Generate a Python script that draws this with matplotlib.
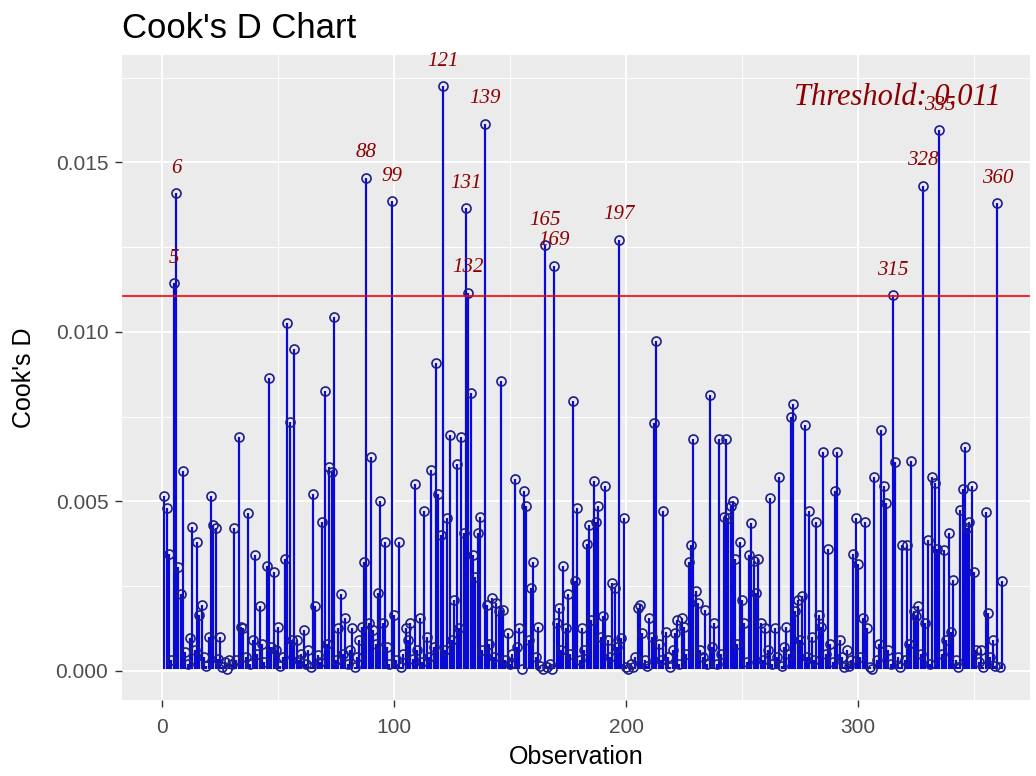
import matplotlib.pyplot as plt
import numpy as np
from matplotlib.ticker import MultipleLocator

# Cook's distance for each observation (in units of 1e-3)
cooks_d_milli = [
    5.15, 4.80, 3.45, 0.30, 11.44, 14.09, 3.05, 2.25, 5.90, 0.55,
    0.20, 0.95, 4.25, 0.60, 3.80, 1.65, 1.95, 0.40, 0.15, 1.00,
    5.15, 4.30, 4.20, 0.35, 1.00, 0.10, 0.25, 0.05, 0.30, 0.20,
    4.20, 0.30, 6.90, 1.30, 1.25, 0.40, 4.65, 0.20, 0.90, 3.42,
    0.50, 1.90, 0.80, 0.25, 3.10, 8.65, 0.70, 2.90, 0.60, 1.30,
    0.15, 0.40, 3.30, 10.25, 7.35, 0.90, 9.50, 0.90, 0.30, 0.50,
    1.20, 0.20, 0.60, 0.10, 5.20, 1.90, 0.45, 0.25, 4.40, 8.25,
    0.80, 6.00, 5.85, 10.45, 0.30, 1.25, 2.25, 0.50, 1.55, 0.20,
    0.60, 1.25, 0.10, 0.40, 0.90, 1.30, 3.20, 14.55, 1.40, 6.30,
    1.20, 0.80, 2.30, 5.00, 1.40, 3.80, 0.70, 0.20, 13.85, 1.65,
    0.30, 3.80, 0.10, 0.50, 1.25, 0.90, 1.40, 0.35, 5.50, 0.60,
    1.55, 0.25, 4.70, 1.00, 0.40, 5.93, 0.70, 9.08, 5.20, 4.00,
    17.25, 0.60, 4.50, 6.95, 0.90, 2.10, 6.10, 1.25, 6.90, 4.05,
    13.65, 11.15, 8.20, 3.40, 2.75, 4.05, 4.55, 0.60, 16.15, 1.95,
    0.80, 2.15, 0.40, 2.00, 1.75, 8.55, 1.80, 0.30, 1.10, 0.20,
    0.50, 5.65, 0.70, 1.25, 0.05, 5.30, 4.85, 0.90, 2.45, 3.20,
    0.40, 1.30, 0.15, 0.05, 12.55, 0.10, 0.20, 0.05, 11.95, 1.40,
    1.85, 0.60, 3.10, 1.25, 2.25, 0.50, 7.95, 2.65, 4.80, 0.30,
    1.25, 0.60, 3.75, 4.30, 1.50, 5.60, 4.40, 4.85, 1.00, 1.60,
    5.45, 0.90, 0.40, 2.60, 2.45, 0.70, 12.72, 0.95, 4.50, 0.10,
    0.05, 0.20, 0.10, 0.40, 1.85, 1.95, 1.10, 0.30, 0.15, 1.55,
    1.00, 7.30, 9.72, 0.80, 0.30, 4.70, 1.15, 0.40, 0.10, 0.60,
    1.10, 1.50, 0.20, 1.55, 1.30, 0.50, 3.20, 3.70, 6.85, 2.35,
    2.00, 0.60, 0.40, 1.80, 0.20, 8.15, 0.70, 1.40, 0.20, 6.85,
    0.50, 4.55, 6.85, 4.50, 4.85, 5.00, 3.30, 0.80, 3.80, 2.10,
    1.40, 0.25, 3.40, 4.35, 3.25, 2.30, 3.30, 1.40, 0.30, 1.25,
    0.60, 5.10, 0.20, 1.25, 0.40, 5.72, 0.15, 0.70, 1.30, 0.50,
    7.48, 7.87, 1.75, 2.10, 0.90, 2.20, 7.25, 0.40, 4.70, 1.00,
    0.30, 4.40, 1.65, 1.30, 6.45, 0.50, 3.60, 0.80, 0.25, 5.30,
    6.45, 0.90, 0.40, 0.10, 0.60, 0.15, 0.30, 3.45, 4.50, 3.15,
    0.40, 1.55, 4.38, 1.25, 0.10, 0.05, 5.72, 0.30, 0.80, 7.10,
    5.45, 4.95, 0.60, 0.20, 11.08, 6.15, 0.40, 0.10, 3.70, 0.30,
    3.70, 0.80, 6.18, 1.75, 1.60, 1.90, 0.50, 14.32, 1.40, 3.85,
    0.20, 5.72, 5.55, 3.60, 15.95, 0.50, 3.55, 0.90, 4.05, 1.15,
    2.67, 0.30, 0.10, 4.73, 5.35, 6.60, 4.20, 4.40, 5.45, 2.90,
    0.60, 0.25, 0.60, 0.10, 4.68, 1.70, 0.40, 0.90, 0.15, 13.80,
    0.10, 2.66,
]

cooks_d = np.array(cooks_d_milli) / 1000.0
obs = np.arange(1, len(cooks_d) + 1)
threshold = 4 / len(cooks_d)

plt.rcParams['font.family'] = ['Liberation Sans', 'DejaVu Sans']

fig = plt.figure(figsize=(10.36, 7.76), dpi=100)
ax = fig.add_axes([0.118, 0.098, 0.876, 0.831])
ax.set_facecolor('#EBEBEB')
for s in ax.spines.values():
    s.set_visible(False)

ax.xaxis.set_major_locator(MultipleLocator(100))
ax.xaxis.set_minor_locator(MultipleLocator(50))
ax.yaxis.set_major_locator(MultipleLocator(0.005))
ax.yaxis.set_minor_locator(MultipleLocator(0.0025))
ax.grid(which='major', color='white', linewidth=1.4, zorder=0)
ax.grid(which='minor', color='white', linewidth=0.7, zorder=0)
ax.set_axisbelow(True)
ax.tick_params(which='major', length=5, color='#333333', labelcolor='#4D4D4D',
               labelsize=15, width=1, pad=5)
ax.tick_params(axis='x', pad=8)
ax.tick_params(which='minor', length=0)
ax.yaxis.set_major_formatter(plt.FuncFormatter(lambda v, p: f'{v:.3f}'))

ax.vlines(obs, cooks_d.min(), cooks_d, color='#0a0ad8', linewidth=1.6, zorder=2)
ax.plot(obs, cooks_d, linestyle='', marker='o', markersize=6.5, markerfacecolor='none',
        markeredgecolor='#1c1c8c', markeredgewidth=1.2, zorder=3)
ax.axhline(threshold, color='red', linewidth=1.2, zorder=4)

# label the observations above the threshold
for o, d in zip(obs, cooks_d):
    if d > threshold:
        ax.annotate(str(o), (o, d), xytext=(0, 18), textcoords='offset points',
                    ha='center', va='center', fontsize=15, color='#8B0000',
                    family='Liberation Serif', style='italic', zorder=5)

ax.text(0.968, 0.935, f'Threshold: {round(threshold, 3)}', transform=ax.transAxes,
        ha='right', va='center', fontsize=22, color='#8B0000',
        family='Liberation Serif', style='italic')

ax.set_xlim(-17.2, 374)
ax.set_ylim(-0.000865, 0.01817)
ax.set_xlabel('Observation', fontsize=18, labelpad=6)
ax.set_ylabel("Cook's D", fontsize=18, labelpad=14)
ax.set_title("Cook's D Chart", fontsize=25, loc='left', pad=12)

plt.savefig('out.png', dpi=100)
